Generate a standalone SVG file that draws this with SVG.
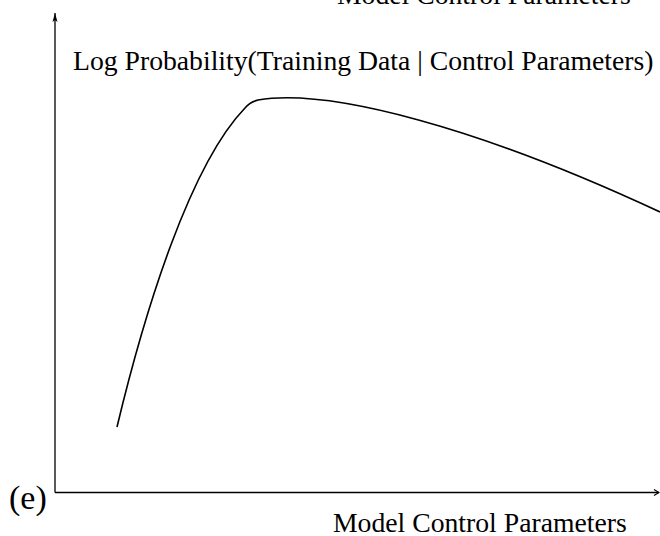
<svg xmlns="http://www.w3.org/2000/svg" width="660" height="536" viewBox="0 0 660 536">
<style>
.t{font-family:"Liberation Serif","Times New Roman",serif;font-size:27.7px;fill:#000}
.ax{stroke:#000;stroke-width:1.3;fill:none}
.cv{stroke:#000;stroke-width:1.6;fill:none}
</style>
<defs>
<marker id="ah" markerWidth="10" markerHeight="10" refX="9" refY="5" orient="auto" markerUnits="userSpaceOnUse">
<path d="M0,2.5 L9,5 L0,7.5 L2,5 Z" fill="#000"/>
</marker>
<marker id="ao" markerWidth="10" markerHeight="10" refX="6" refY="5" orient="auto" markerUnits="userSpaceOnUse">
<path d="M1,2 L6,5 L1,8" fill="none" stroke="#000" stroke-width="1.2"/>
</marker>
</defs>
<rect width="660" height="536" fill="#fff"/>
<g id="connectors">
<line id="y-axis" class="ax" x1="55" y1="492.5" x2="55" y2="13" marker-end="url(#ah)"/>
<line id="x-axis" class="ax" x1="55" y1="492.5" x2="659" y2="492.5" marker-end="url(#ao)"/>
</g>
<g id="curve">
<path class="cv" d="M117,427 C145,310 190,165 245,108 Q250,102 258,100 C330,88 480,128 660,212"/>
</g>
<g id="labels">
<text class="t" x="337" y="4">Model Control Parameters</text>
<text class="t" x="73" y="70">Log Probability(Training Data | Control Parameters)</text>
<text class="t" x="333" y="532">Model Control Parameters</text>
<text class="t" x="9" y="509" style="font-size:34px">(e)</text>
</g>
</svg>
